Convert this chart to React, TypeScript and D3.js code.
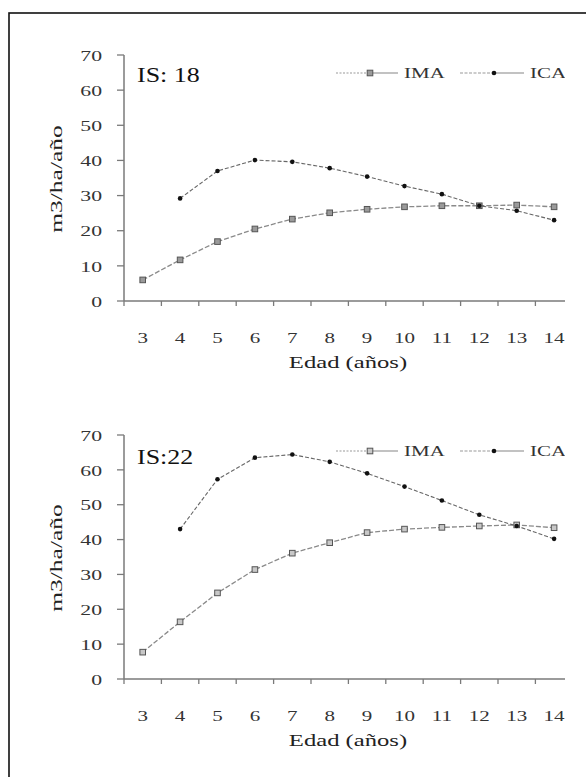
import React from "react";
import * as d3 from "d3";

const years = [3, 4, 5, 6, 7, 8, 9, 10, 11, 12, 13, 14];
const yTicks = [0, 10, 20, 30, 40, 50, 60, 70];
const seriesNames = ["IMA", "ICA"];

const ima18: (number | null)[] = [6, 11.7, 16.9, 20.5, 23.3, 25.1, 26.1, 26.8, 27.1, 27.1, 27.3, 26.8];
const ica18: (number | null)[] = [null, 29.2, 37.0, 40.1, 39.6, 37.8, 35.4, 32.7, 30.4, 27.1, 25.7, 23.0];
const ima22: (number | null)[] = [7.7, 16.4, 24.7, 31.4, 36.1, 39.1, 42.0, 43.0, 43.5, 43.9, 44.2, 43.4];
const ica22: (number | null)[] = [null, 43.0, 57.3, 63.5, 64.4, 62.3, 59.0, 55.2, 51.2, 47.1, 43.9, 40.2];

const panels = [
  { label: "IS: 18", ima: ima18, ica: ica18, y0: 301, y70: 55, legendY: 73, labelY: 75, imaHollow: false },
  { label: "IS:22", ima: ima22, ica: ica22, y0: 679, y70: 435, legendY: 451, labelY: 457, imaHollow: true },
];

const FONT = "'Liberation Serif', 'Times New Roman', serif";

function SText(props: {
  x: number; y: number; sx: number; size: number; anchor?: string; rotate?: number; fill?: string; children: React.ReactNode;
}) {
  const { x, y, sx, size, anchor = "middle", rotate = 0, fill = "#222", children } = props;
  return (
    <text
      transform={`translate(${x},${y}) rotate(${rotate}) scale(${sx},1)`}
      textAnchor={anchor as any}
      dominantBaseline="central"
      fontFamily={FONT}
      fontSize={size}
      fill={fill}
    >
      {children}
    </text>
  );
}

function Panel({ p }: { p: (typeof panels)[number] }) {
  const x = d3.scaleBand<number>().domain(years).range([124, 572.8]).padding(0);
  const y = d3.scaleLinear().domain([0, 70]).range([p.y0, p.y70]);
  const cx = (d: number) => (x(d) as number) + x.bandwidth() / 2;
  const line = d3
    .line<{ yr: number; v: number | null }>()
    .defined((d) => d.v !== null)
    .x((d) => cx(d.yr))
    .y((d) => y(d.v as number));
  const imaPts = years.map((yr, i) => ({ yr, v: p.ima[i] }));
  const icaPts = years.map((yr, i) => ({ yr, v: p.ica[i] }));
  const edges = [...years.map((d) => x(d) as number), 572.8];
  const axisColor = "#7a7a7a";

  const imaMarker = (mx: number, my: number, key: any) => (
    <rect key={key} x={mx - 2.8} y={my - 2.8} width={5.6} height={5.6}
      fill={p.imaHollow ? "#c8c8c8" : "#9a9a9a"} stroke="#555" strokeWidth={1} />
  );
  const icaMarker = (mx: number, my: number, key: any) => (
    <circle key={key} cx={mx} cy={my} r={2.3} fill="#111" />
  );

  return (
    <g>
      {/* y axis */}
      <line x1={124} x2={124} y1={p.y70} y2={p.y0} stroke={axisColor} strokeWidth={1.5} />
      {yTicks.map((t) => (
        <g key={t}>
          <line x1={117} x2={124} y1={y(t)} y2={y(t)} stroke={axisColor} strokeWidth={1.3} />
          <SText x={102} y={y(t) + 1} sx={1.5} size={14.5} anchor="end" fill="#333">{t}</SText>
        </g>
      ))}
      {/* x axis */}
      <line x1={124} x2={572.8} y1={p.y0} y2={p.y0} stroke={axisColor} strokeWidth={1.5} />
      {edges.map((e, i) => (
        <line key={i} x1={e} x2={e} y1={p.y0} y2={p.y0 + 5} stroke={axisColor} strokeWidth={1.3} />
      ))}
      {years.map((yr) => (
        <SText key={yr} x={cx(yr)} y={p.y0 + 37} sx={1.45} size={14.5} fill="#333">{yr}</SText>
      ))}
      <SText x={348} y={p.y0 + 61} sx={1.45} size={17}>Edad (años)</SText>
      <SText x={57} y={(p.y0 + p.y70) / 2 + 1} sx={1.5} size={17} rotate={-90}>m3/ha/año</SText>
      <SText x={137} y={p.labelY} sx={1.3} size={20} anchor="start" fill="#111">{p.label}</SText>

      {/* lines */}
      <path d={line(imaPts) || ""} fill="none" stroke="#8a8a8a" strokeWidth={1.3} strokeDasharray="5,2" />
      <path d={line(icaPts) || ""} fill="none" stroke="#666" strokeWidth={1.1} strokeDasharray="4,2" />
      {imaPts.filter((d) => d.v !== null).map((d) => imaMarker(cx(d.yr), y(d.v as number), "m" + d.yr))}
      {icaPts.filter((d) => d.v !== null).map((d) => icaMarker(cx(d.yr), y(d.v as number), "c" + d.yr))}

      {/* legend */}
      <g>
        <line x1={336} x2={372} y1={p.legendY} y2={p.legendY} stroke="#999" strokeWidth={1.2} strokeDasharray="2,1.5" />
        <line x1={372} x2={398} y1={p.legendY} y2={p.legendY} stroke="#999" strokeWidth={1.2} />
        {imaMarker(370, p.legendY, "lm")}
        <SText x={404} y={p.legendY} sx={1.4} size={15} anchor="start" fill="#333">{seriesNames[0]}</SText>
        <line x1={460} x2={494} y1={p.legendY} y2={p.legendY} stroke="#999" strokeWidth={1.2} strokeDasharray="3,1.5" />
        <line x1={494} x2={524} y1={p.legendY} y2={p.legendY} stroke="#999" strokeWidth={1.2} />
        {icaMarker(494, p.legendY, "lc")}
        <SText x={530} y={p.legendY} sx={1.4} size={15} anchor="start" fill="#333">{seriesNames[1]}</SText>
      </g>
    </g>
  );
}

export default function App() {
  return (
    <svg
      width={586}
      height={777}
      style={{ position: "fixed", left: 0, top: 0, background: "#fff" }}
    >
      <defs>
        <clipPath id="content">
          <rect x={0} y={0} width={565} height={777} />
        </clipPath>
      </defs>
      <rect x={0} y={0} width={586} height={777} fill="#fff" />
      <rect x={9} y={13} width={620} height={800} fill="none" stroke="#111" strokeWidth={1.6} />
      <g clipPath="url(#content)">
        {panels.map((p) => (
          <Panel key={p.label} p={p} />
        ))}
      </g>
    </svg>
  );
}
